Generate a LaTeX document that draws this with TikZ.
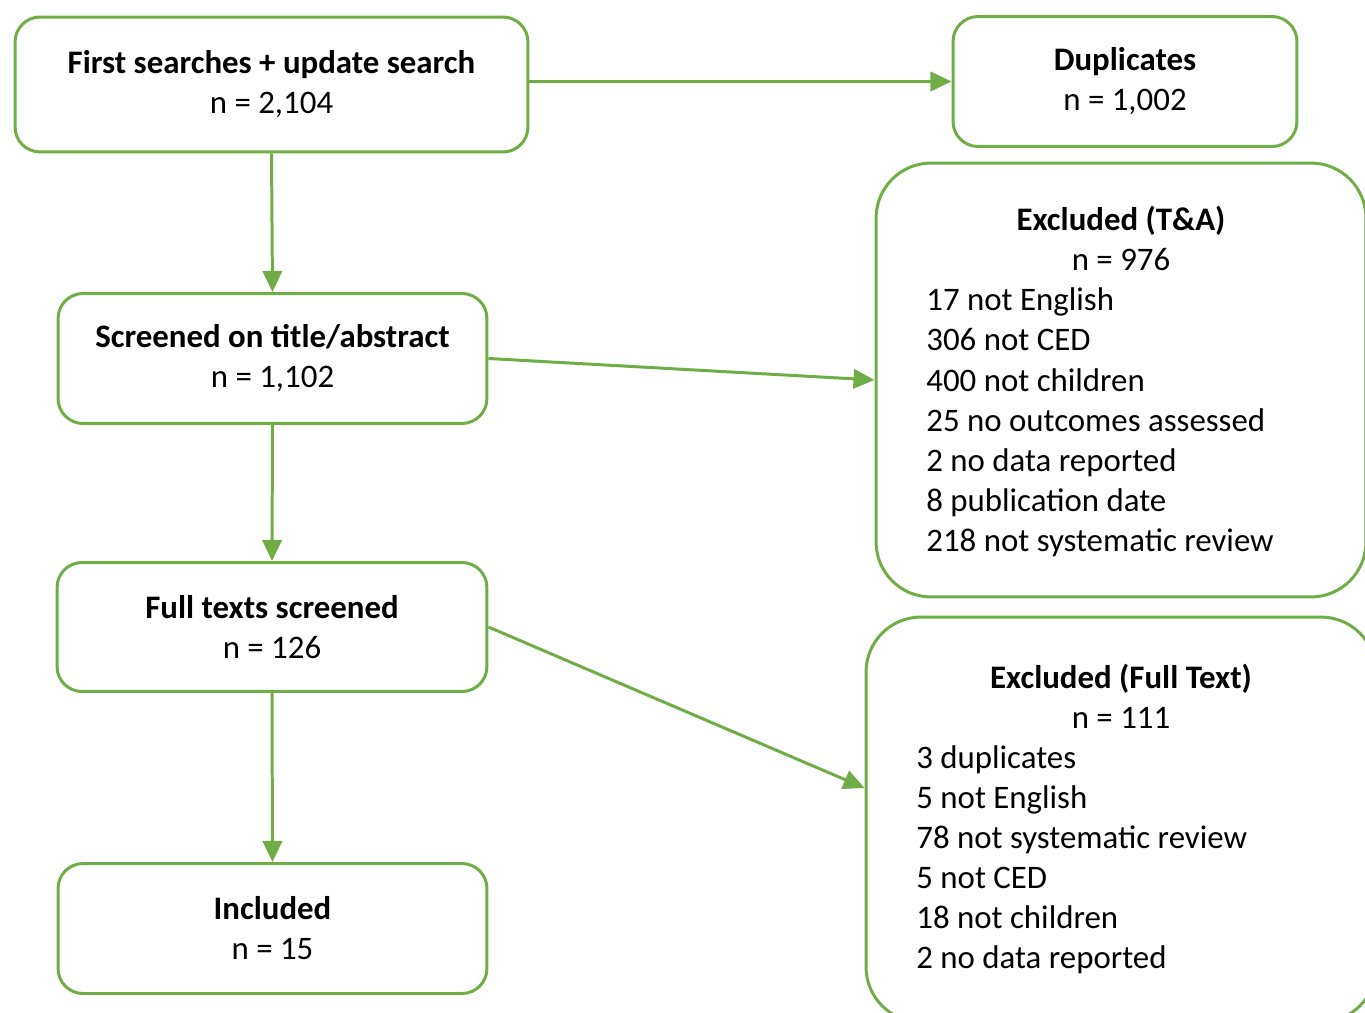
\documentclass[tikz,border=0pt]{standalone}
\usepackage{fontspec}
\setmainfont{Carlito}
\usetikzlibrary{arrows.meta}
\definecolor{flowgreen}{RGB}{112,173,71}
\tikzset{
  stage/.style={draw=flowgreen, line width=1.7pt, rounded corners=0.5cm,
    align=center, minimum width=#1, minimum height=2.6cm},
  excl/.style={draw=flowgreen, line width=1.7pt, rounded corners=1.1cm},
  reason/.style={anchor=base west, inner sep=0pt},
  flow/.style={draw=flowgreen, line width=1.7pt,
    -{Triangle[length=12pt,width=11pt]}},
}
\begin{document}
\begin{tikzpicture}[x=0.02cm, y=-0.02cm,
    font=\fontsize{18.7}{22.8}\selectfont]
    \useasboundingbox (0,0) rectangle (1365,1013);
    \clip (0,0) rectangle (1365,1013);

    % linke Spalte
    \node[stage=10.26cm, minimum height=2.7cm] (search) at (271.5,84.5)
        {\textbf{First searches + update search}\\n = 2,104};
    \node[stage=8.58cm] (screen) at (272.5,358.5)
        {\textbf{Screened on title/abstract}\\n = 1,102};
    \node[stage=8.6cm, minimum height=2.58cm] (full) at (272,627)
        {\textbf{Full texts screened}\\n = 126};
    \node[stage=8.58cm] (incl) at (272.5,928.5)
        {\textbf{Included}\\n = 15};

    % rechte Spalte
    \node[stage=6.88cm] (dup) at (1125,81.5)
        {\textbf{Duplicates}\\n = 1,002};
    \node[excl, minimum width=9.8cm, minimum height=8.68cm] (exTA) at (1121,380) {};
    \node[excl, minimum width=10.2cm, minimum height=8.1cm] (exFT) at (1121,819.5) {};

    % Ausschlussgruende (T&A)
    \node[anchor=base] (taTitle) at (1121,231) {\textbf{Excluded (T\&A)}};
    \node[anchor=base] (taN) at (1121,271) {n = 976};
    \foreach \t [count=\i] in {17 not English, 306 not CED, 400 not children,
        25 no outcomes assessed, 2 no data reported, 8 publication date,
        218 not systematic review}
      \node[reason] (ta\i) at (926,271+40*\i) {\t};

    % Ausschlussgruende (Volltext)
    \node[anchor=base] (ftTitle) at (1121,688) {\textbf{Excluded (Full Text)}};
    \node[anchor=base] (ftN) at (1121,728) {n = 111};
    \foreach \t [count=\i] in {3 duplicates, 5 not English,
        78 not systematic review, 5 not CED, 18 not children,
        2 no data reported}
      \node[reason] (ft\i) at (916,728+40*\i) {\t};

    % Pfeile
    \draw[flow] (search.south) -- (screen.north);
    \draw[flow] (screen.south) -- (full.north);
    \draw[flow] (full.south) -- (incl.north);
    \draw[flow] (search.east |- dup.west) -- (dup.west);
    \draw[flow] (screen.east) -- (exTA.west);
    \draw[flow] (full.east) -- (exFT.173);
\end{tikzpicture}
\end{document}
